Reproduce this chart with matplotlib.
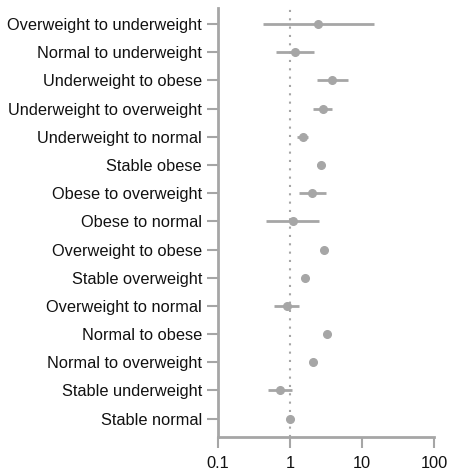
import matplotlib
matplotlib.use('Agg')
import matplotlib.pyplot as plt
import numpy as np

plt.rcParams['font.family'] = ['Liberation Sans', 'DejaVu Sans']

# categories top to bottom
groups = ['Overweight to underweight', 'Normal to underweight', 'Underweight to obese',
          'Underweight to overweight', 'Underweight to normal', 'Stable obese',
          'Obese to overweight', 'Obese to normal', 'Overweight to obese',
          'Stable overweight', 'Overweight to normal', 'Normal to obese',
          'Normal to overweight', 'Stable underweight', 'Stable normal']
estimate = [2.48, 1.17, 3.89, 2.86, 1.50, 2.68, 2.03, 1.09, 2.98, 1.60, 0.90, 3.28, 2.07, 0.73, 1.0]
lower = [0.42, 0.64, 2.38, 2.11, 1.24, 2.36, 1.34, 0.47, 2.75, 1.48, 0.60, 3.05, 1.98, 0.49, 1.0]
upper = [14.8, 2.14, 6.3, 3.89, 1.80, 3.01, 3.15, 2.51, 3.22, 1.72, 1.32, 3.52, 2.16, 1.07, 1.0]

ticks = [0.1, 1, 10, 100]
tick_labels = ['0.1', '1', '10', '100']

gray = '#a6a6a6'

fig = plt.figure(figsize=(4.52, 4.70), dpi=100)
ax = fig.add_axes([218/452, 33/470, 216/452, 429/470])

y = np.arange(len(groups))[::-1]
est = np.array(estimate)
err = np.array([est - np.array(lower), np.array(upper) - est])

ax.axvline(1, color=gray, linestyle=(0, (1, 3)), linewidth=1.5, zorder=1)
ax.errorbar(est, y, xerr=err, fmt='o', color=gray, ecolor=gray,
            elinewidth=2, markersize=5.5, capsize=0, zorder=2)

ax.set_xscale('log')
ax.set_xlim(0.1, 100)
ax.set_ylim(-0.65, len(groups) - 1 + 0.57)
ax.set_xticks(ticks)
ax.set_xticklabels(tick_labels)
ax.minorticks_off()
ax.set_yticks(y)
ax.set_yticklabels(groups)

for side in ['top', 'right']:
    ax.spines[side].set_visible(False)
for side in ['left', 'bottom']:
    ax.spines[side].set_color(gray)
    ax.spines[side].set_linewidth(2)
ax.tick_params(axis='both', colors=gray, width=1.5, length=8, labelsize=11.8,
               labelcolor='#111111')
ax.tick_params(axis='x', pad=6)

fig.savefig('out.png', dpi=100)
